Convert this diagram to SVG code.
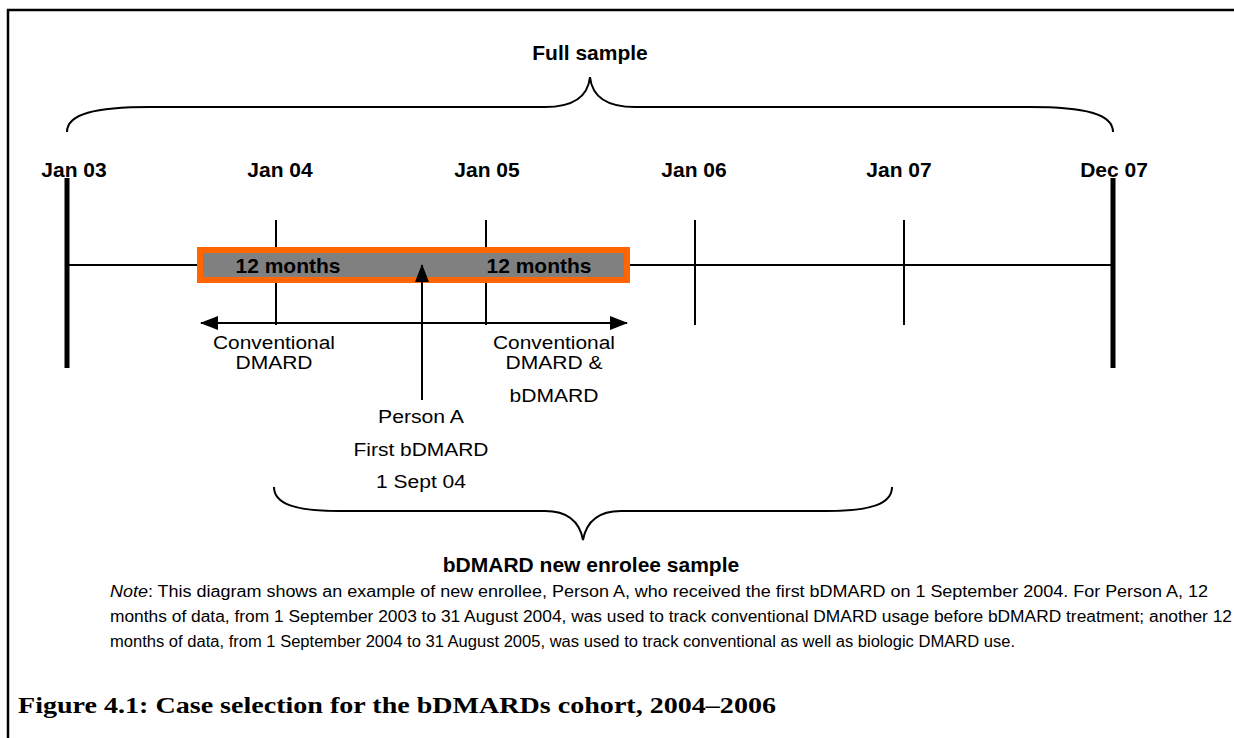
<svg xmlns="http://www.w3.org/2000/svg" width="1234" height="738" viewBox="0 0 1234 738">
<style>
.b{font-family:"Liberation Sans",Arial,sans-serif;font-weight:bold;font-size:21px;fill:#000;text-anchor:middle}
.r{font-family:"Liberation Sans",Arial,sans-serif;font-size:18px;fill:#000;text-anchor:middle}
.n{font-family:"Liberation Sans",Arial,sans-serif;font-size:16px;fill:#000}
.ln{stroke:#000;stroke-width:2;fill:none}
.thick{stroke:#000;stroke-width:5;fill:none}
.br{stroke:#000;stroke-width:2;fill:none}
</style>
<defs>
<marker id="ah" markerWidth="18" markerHeight="14" refX="17" refY="7" orient="auto-start-reverse" markerUnits="userSpaceOnUse">
<path d="M0,0 L18,7 L0,14 Z" fill="#000"/>
</marker>
</defs>
<rect width="1234" height="738" fill="#fff"/>
<g id="frame">
<path d="M8,738 L8,10 L1234,10" stroke="#000" stroke-width="2.5" fill="none"/>
</g>
<g id="full-sample">
<path class="br" d="M67,132 C67,114 95,107 150,107 L545,107 C575,107 588,96 590,77 C592,96 605,107 635,107 L1030,107 C1085,107 1113,114 1113,132"/>
<text class="b" x="590" y="60">Full sample</text>
</g>
<g id="timeline">
<line class="ln" x1="67" y1="265" x2="1113" y2="265"/>
<line class="thick" x1="67" y1="178" x2="67" y2="368"/>
<line class="thick" x1="1113" y1="178" x2="1113" y2="368"/>
<line class="ln" x1="276" y1="220" x2="276" y2="325"/>
<line class="ln" x1="486" y1="220" x2="486" y2="325"/>
<line class="ln" x1="695" y1="220" x2="695" y2="325"/>
<line class="ln" x1="904" y1="220" x2="904" y2="325"/>
<text class="b" x="74" y="177">Jan 03</text>
<text class="b" x="280" y="177">Jan 04</text>
<text class="b" x="487" y="177">Jan 05</text>
<text class="b" x="694" y="177">Jan 06</text>
<text class="b" x="899" y="177">Jan 07</text>
<text class="b" x="1114" y="177">Dec 07</text>
</g>
<g id="window">
<rect x="200" y="250" width="427" height="30" fill="#808080" stroke="#FF6600" stroke-width="6"/>
<text class="b" x="288" y="273">12 months</text>
<text class="b" x="539" y="273">12 months</text>
</g>
<g id="connectors">
<line class="ln" x1="201" y1="323" x2="627" y2="323" marker-start="url(#ah)" marker-end="url(#ah)"/>
<line class="ln" x1="422" y1="400" x2="422" y2="265" marker-end="url(#ah)"/>
</g>
<g id="labels">
<text class="r" x="274" y="349" textLength="122" lengthAdjust="spacingAndGlyphs">Conventional</text>
<text class="r" x="274" y="369" textLength="77" lengthAdjust="spacingAndGlyphs">DMARD</text>
<text class="r" x="554" y="349" textLength="122" lengthAdjust="spacingAndGlyphs">Conventional</text>
<text class="r" x="554" y="369" textLength="97" lengthAdjust="spacingAndGlyphs">DMARD &amp;</text>
<text class="r" x="554" y="402" textLength="89" lengthAdjust="spacingAndGlyphs">bDMARD</text>
<text class="r" x="421" y="423" textLength="86" lengthAdjust="spacingAndGlyphs">Person A</text>
<text class="r" x="421" y="456" textLength="135" lengthAdjust="spacingAndGlyphs">First bDMARD</text>
<text class="r" x="421" y="488" textLength="90" lengthAdjust="spacingAndGlyphs">1 Sept 04</text>
</g>
<g id="new-enrolee">
<path class="br" d="M274,487 C274,504 295,511 340,511 L545,511 C570,511 580,524 583,540 C586,524 596,511 621,511 L826,511 C871,511 892,504 892,487"/>
<text class="b" x="591" y="572">bDMARD new enrolee sample</text>
</g>
<g id="note">
<text class="n" x="110" y="597" textLength="1098" lengthAdjust="spacingAndGlyphs"><tspan font-style="italic">Note</tspan>: This diagram shows an example of new enrollee, Person A, who received the first bDMARD on 1 September 2004. For Person A, 12</text>
<text class="n" x="110" y="622" textLength="1122" lengthAdjust="spacingAndGlyphs">months of data, from 1 September 2003 to 31 August 2004, was used to track conventional DMARD usage before bDMARD treatment; another 12</text>
<text class="n" x="110" y="647" textLength="905" lengthAdjust="spacingAndGlyphs">months of data, from 1 September 2004 to 31 August 2005, was used to track conventional as well as biologic DMARD use.</text>
</g>
<g id="caption">
<text x="18" y="713" font-family="'Liberation Serif','DejaVu Serif',serif" font-weight="bold" font-size="24" textLength="758" lengthAdjust="spacingAndGlyphs">Figure 4.1: Case selection for the bDMARDs cohort, 2004–2006</text>
</g>
</svg>
